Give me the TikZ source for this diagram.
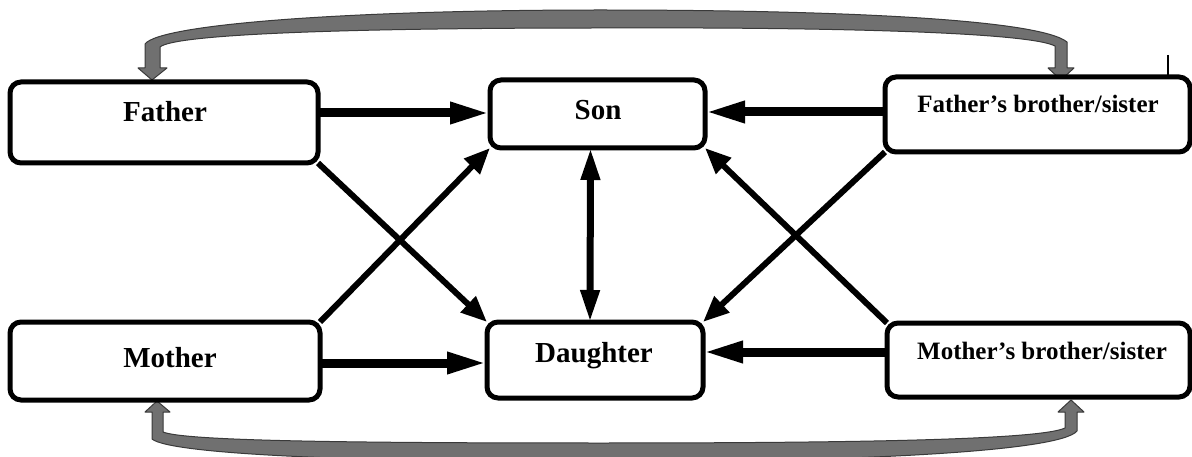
\documentclass[tikz,border=0pt]{standalone}
\usepackage{fontspec}
\setmainfont{Liberation Serif}
\usetikzlibrary{arrows.meta}
\definecolor{bandfill}{HTML}{707070}
\definecolor{bandedge}{HTML}{3A3A3A}
\tikzset{
  box/.style={draw=black, line width=5pt, rounded corners=11pt, inner sep=0pt, outer sep=0pt, fill=white},
  bigtxt/.style={font=\bfseries\fontsize{29}{29}\selectfont, anchor=base, inner sep=0pt},
  smalltxt/.style={font=\bfseries\fontsize{25}{25}\selectfont, anchor=base, inner sep=0pt},
  harrow/.style={line width=9pt, -{Triangle[length=40pt 0 0, width=20pt 0 0]}},
  darrow/.style={line width=6pt, -{Triangle[length=26pt 0 0, width=21pt 0 0]}},
  varrow/.style={line width=7pt, {Triangle[length=32pt 0 0, width=18pt 0 0]}-{Triangle[length=32pt 0 0, width=18pt 0 0]}},
  band/.style={fill=bandfill, draw=bandedge, line width=1pt, line join=round},
}
\begin{document}
\begin{tikzpicture}[x=1pt, y=-1pt]
\useasboundingbox (0,0) rectangle (1192,457);
\begin{scope}
\clip (0,0) rectangle (1192,457);
% grey connectors
\path[band] (145,68) -- (145,44) .. controls (160,24) and (350,10) .. (600,10)
  .. controls (850,10) and (1040,20) .. (1067,42) -- (1067,68) -- (1074,68) -- (1061,80)
  -- (1048,68) -- (1055,68) -- (1055,46) .. controls (1030,33) and (850,27) .. (600,28)
  .. controls (350,28) and (175,34) .. (160,47) -- (160,68) -- (167,68) -- (152,80) -- (138,68) -- cycle;
\path[band] (152,412) -- (145,412) -- (157,401) -- (170,412) -- (163,412) -- (163,432)
  .. controls (185,441) and (350,443) .. (600,443) .. controls (850,443) and (1040,440) .. (1065,428)
  -- (1065,412) -- (1058,412) -- (1071,400) -- (1084,412) -- (1077,412) -- (1077,431)
  .. controls (1060,452) and (850,462) .. (600,462) .. controls (350,462) and (170,454) .. (152,439) -- cycle;
\end{scope}

% boxes
\node[box, minimum width=308pt, minimum height=81pt] (father) at (164,122.5) {};
\node[box, minimum width=215pt, minimum height=68pt] (son) at (597.5,114) {};
\node[box, minimum width=305pt, minimum height=75pt] (fbro) at (1037.5,114.5) {};
\node[box, minimum width=310pt, minimum height=78pt] (mother) at (165,361) {};
\node[box, minimum width=216pt, minimum height=76pt] (daughter) at (595,360) {};
\node[box, minimum width=303pt, minimum height=74pt] (mbro) at (1038.5,360) {};

% labels
\node[bigtxt] (fathertxt) at (165,122) {Father};
\node[bigtxt] (sontxt) at (598,120) {Son};
\node[smalltxt] (fbrotxt) at (1038,113) {Father’s brother/sister};
\node[bigtxt] (mothertxt) at (170,367) {Mother};
\node[bigtxt] (daughtertxt) at (594,362) {Daughter};
\node[smalltxt] (mbrotxt) at (1042,359) {Mother’s brother/sister};

% horizontal arrows
\draw[harrow] (father.east |- 0,113) -- (son.west |- 0,113);
\draw[harrow] (fbro.west |- 0,112) -- (son.east |- 0,112);
\draw[harrow] (mother.east |- 0,363) -- (daughter.west |- 0,363);
\draw[harrow] (mbro.west |- 0,352) -- (daughter.east |- 0,352);

% diagonal arrows
\draw[darrow] (father.south east) -- (daughter.north west);
\draw[darrow] (mother.north east) -- (son.south west);
\draw[darrow] (fbro.south west) -- (daughter.north east);
\draw[darrow] (mbro.north west) -- (son.south east);

% vertical double arrow
\draw[varrow] ([xshift=-7pt]son.south) -- ([xshift=-5pt]daughter.north);

% small mark
\coordinate (markTop) at (1168,55);
\coordinate (markBot) at (1168,78);
\draw[line width=1.5pt] (markTop) -- (markBot);
\end{tikzpicture}
\end{document}
